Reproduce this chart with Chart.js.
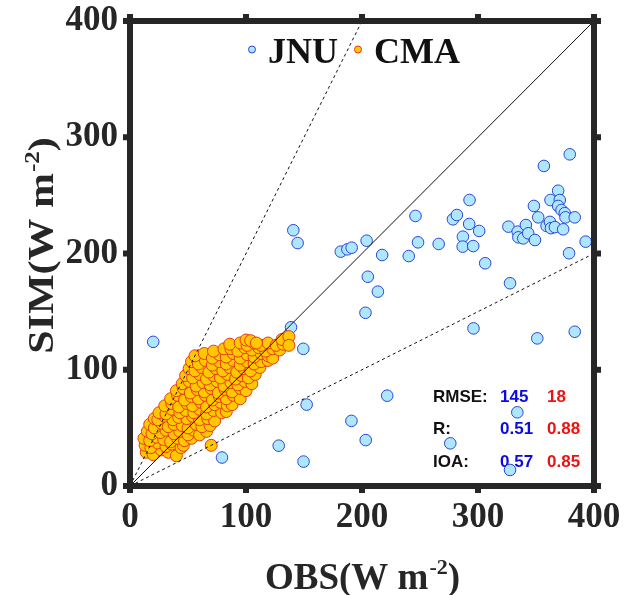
<!DOCTYPE html>
<html>
<head>
<meta charset="utf-8">
<script src="https://cdn.jsdelivr.net/npm/chart.js@4.4.0/dist/chart.umd.min.js"></script>
<style>
  html, body { margin: 0; padding: 0; background: #fff; }
</style>
</head>
<body>
<canvas id="scatterChart" width="624" height="595"></canvas>
<script>
const axisTicks = [0, 100, 200, 300, 400];

// [OBS, SIM] pairs, W m-2
const jnuPairs = [
  [140.8, 220], [144.5, 209], [181.7, 201.6], [187.4, 203.6], [191.1, 205], [204, 211],
  [205, 180], [203, 149], [20, 124], [138.8, 136.5], [149.4, 118], [152.3, 70],
  [190.9, 56], [203.2, 39.5], [128.2, 34.7], [149.6, 21], [79.3, 24.5], [213.7, 167.2],
  [217.4, 198.7], [240.3, 197.8], [246.1, 232.3], [248.3, 209.6], [266.1, 208.2], [278.4, 229.4],
  [281.8, 233.1], [292.7, 246], [292.4, 225.4], [301, 219.4], [287, 214.5], [286.8, 205.9],
  [295.9, 206.4], [306.2, 191.6], [326.2, 223.1], [334.2, 218.8], [334.8, 213.9], [339, 213],
  [341.3, 224.5], [343.3, 217.4], [349.1, 211.6], [348.2, 240.9], [351.9, 231.1], [356.8, 275.3],
  [362.5, 246], [369.1, 254], [370.5, 246], [369.1, 240.9], [372, 237.4], [374.8, 234.7],
  [375.4, 231.1], [383.4, 231.1], [359.1, 223.7], [362, 227.2], [362.9, 221.8], [366.3, 222.7],
  [373.4, 220.8], [379.1, 285.3], [378.5, 200.2], [392.8, 210.2], [327.6, 174.4], [296.1, 135.6],
  [351.1, 127], [383.4, 132.7], [221.7, 77.7], [276.1, 36.7], [333.9, 63.4], [327.6, 13.8]
];

const cmaPairs = [
  [14, 29], [20, 27], [27, 31], [33, 29], [40, 26],
  [13, 35], [18, 33], [24, 37], [31, 34], [36, 36], [44, 33], [46, 35],
  [12, 41], [17, 39], [23, 42], [29, 40], [35, 38], [41, 41], [47, 39], [53, 41],
  [15, 47], [19, 45], [26, 46], [31, 48], [38, 45], [43, 47], [50, 44], [55, 48], [60, 44], [66, 47],
  [17, 53], [21, 50], [27, 54], [33, 51], [38, 53], [45, 52], [50, 50], [57, 53], [62, 51], [69, 52],
  [21, 58], [24, 57], [30, 60], [37, 57], [42, 59], [49, 58], [54, 60], [60, 57], [67, 58], [73, 56],
  [25, 63], [31, 62], [36, 66], [43, 63], [48, 65], [55, 63], [60, 66], [66, 62], [72, 65], [79, 63], [83, 64],
  [30, 69], [36, 71], [42, 68], [49, 71], [54, 69], [61, 72], [66, 68], [73, 70], [78, 72], [84, 69], [88, 70],
  [35, 75], [41, 78], [47, 74], [53, 77], [59, 75], [65, 78], [71, 74], [77, 77], [83, 75], [89, 78], [95, 75],
  [40, 82], [46, 84], [52, 80], [58, 83], [64, 81], [70, 84], [76, 80], [82, 83], [88, 81], [95, 84], [100, 82],
  [45, 88], [51, 90], [57, 86], [63, 89], [69, 87], [75, 90], [81, 86], [87, 89], [93, 87], [99, 90], [105, 88],
  [48, 95], [54, 93], [60, 96], [66, 92], [72, 95], [78, 93], [84, 96], [91, 92], [96, 95], [102, 93], [108, 96],
  [51, 101], [56, 99], [62, 102], [68, 98], [74, 101], [80, 99], [86, 102], [92, 98], [98, 101], [104, 99], [112, 102],
  [53, 107], [59, 105], [65, 108], [71, 104], [77, 107], [83, 105], [89, 108], [95, 104], [101, 107], [107, 105], [113, 107], [119, 108],
  [56, 112], [64, 114], [71, 110], [77, 113], [83, 111], [89, 114], [95, 110], [101, 113], [107, 111], [113, 114], [119, 112], [123, 110],
  [72, 116], [81, 118], [87, 118], [93, 116], [99, 119], [105, 117], [111, 119], [117, 116], [123, 118], [129, 117],
  [86, 122], [95, 123], [101, 121], [107, 123], [113, 121], [119, 123], [126, 121], [132, 122],
  [100, 125.6], [104, 125], [109, 123], [131, 126], [137, 128.5], [137, 121],
  [70, 35]
];

// 1:1 line and the 2:1 / 1:2 envelopes
const refSlopes = [1, 2, 0.5];
const refDashes = [[], [3, 3], [3, 3]];

const statNames = ['RMSE:', 'R:', 'IOA:'];
const jnuStats = ['145', '0.51', '0.57'];
const cmaStats = ['18', '0.88', '0.85'];

const serif = '"Liberation Serif", "Times New Roman", serif';
const sans = '"Liberation Sans", Arial, sans-serif';
const ink = '#262626';
const jnuFill = '#aee6fd', jnuEdge = '#2a45d8';
const cmaFill = '#ffc800', cmaEdge = '#e8381a';

const toXY = pairs => pairs.map(p => ({x: p[0], y: p[1]}));

const refSets = refSlopes.map((s, i) => ({
  type: 'line',
  data: [{x: 0, y: 0}, {x: Math.min(400, 400 / s), y: Math.min(400, 400 * s)}],
  borderColor: '#111',
  borderWidth: 1,
  borderDash: refDashes[i],
  pointRadius: 0,
  fill: false
}));

const framePlugin = {
  id: 'frame',
  afterDatasetsDraw(chart) {
    const {ctx, chartArea: a, scales: {x, y}} = chart;
    ctx.save();
    ctx.strokeStyle = ink;
    ctx.lineWidth = 6;
    ctx.strokeRect(a.left, a.top, a.right - a.left, a.bottom - a.top);
    ctx.fillStyle = ink;
    axisTicks.forEach(v => {
      const px = x.getPixelForValue(v), py = y.getPixelForValue(v);
      ctx.fillRect(px - 3, a.bottom + 2, 6, 5);
      ctx.fillRect(px - 3, a.top - 7, 6, 5);
      ctx.fillRect(a.left - 7, py - 3, 5, 6);
      ctx.fillRect(a.right + 2, py - 3, 5, 6);
    });
    ctx.restore();
  }
};

// title with a raised "-2" exponent; squash narrows the glyphs vertically
function unitTitle(ctx, label, cx, cy, size, squash) {
  const sub = Math.round(size * 0.6);
  ctx.save();
  ctx.translate(cx, cy);
  ctx.scale(1, squash);
  const main = label + '(W m', sup = '-2', tail = ')';
  ctx.font = 'bold ' + size + 'px ' + serif;
  const w1 = ctx.measureText(main).width, w3 = ctx.measureText(tail).width;
  ctx.font = 'bold ' + sub + 'px ' + serif;
  const w2 = ctx.measureText(sup).width;
  const sx = -(w1 + w2 + w3) / 2;
  ctx.textAlign = 'left';
  ctx.textBaseline = 'alphabetic';
  ctx.font = 'bold ' + size + 'px ' + serif;
  ctx.fillText(main, sx, 0);
  ctx.font = 'bold ' + sub + 'px ' + serif;
  ctx.fillText(sup, sx + w1 + 1, -size * 0.4);
  ctx.font = 'bold ' + size + 'px ' + serif;
  ctx.fillText(tail, sx + w1 + w2 + 1, 0);
  ctx.restore();
}

const decorPlugin = {
  id: 'decor',
  beforeDatasetsDraw(chart) {
    const {ctx} = chart;
    ctx.save();
    ctx.font = 'bold 17px ' + sans;
    ctx.textBaseline = 'middle';
    ctx.textAlign = 'left';
    statNames.forEach((name, i) => {
      const ty = 397 + i * 32.5;
      ctx.fillStyle = '#111';
      ctx.fillText(name, 433, ty);
      ctx.fillStyle = '#0a0ae6';
      ctx.fillText(jnuStats[i], 500, ty);
      ctx.fillStyle = '#ee1111';
      ctx.fillText(cmaStats[i], 547, ty);
    });
    ctx.restore();
  },
  afterDraw(chart) {
    const {ctx, chartArea: a} = chart;
    ctx.save();
    ctx.fillStyle = ink;
    unitTitle(ctx, 'OBS', (a.left + a.right) / 2, 589, 37, 1);
    ctx.translate(53, 246);
    ctx.rotate(-Math.PI / 2);
    unitTitle(ctx, 'SIM', 0, 0, 42, 0.84);
    ctx.restore();

    // legend inside the plot box
    ctx.save();
    ctx.lineWidth = 1;
    [[252, 'JNU', jnuFill, jnuEdge], [358, 'CMA', cmaFill, cmaEdge]].forEach(([lx, txt, f, e]) => {
      ctx.beginPath();
      ctx.arc(lx, 49.5, 3.5, 0, Math.PI * 2);
      ctx.fillStyle = f;
      ctx.fill();
      ctx.strokeStyle = e;
      ctx.stroke();
      ctx.fillStyle = '#111';
      ctx.font = 'bold 36px ' + serif;
      ctx.textBaseline = 'alphabetic';
      ctx.fillText(txt, lx + 16, 63);
    });
    ctx.restore();
  }
};

const tickFont = {family: serif, size: 35, weight: 'bold'};

new Chart(document.getElementById('scatterChart'), {
  type: 'scatter',
  data: {
    datasets: [
      ...refSets,
      {
        label: 'CMA',
        data: toXY(cmaPairs),
        backgroundColor: cmaFill,
        borderColor: cmaEdge,
        borderWidth: 1,
        pointRadius: 6,
        clip: false
      },
      {
        label: 'JNU',
        data: toXY(jnuPairs),
        backgroundColor: jnuFill,
        borderColor: jnuEdge,
        borderWidth: 1,
        pointRadius: 5.8,
        clip: false
      }
    ]
  },
  options: {
    responsive: false,
    animation: false,
    layout: {padding: {top: 21, right: 30, left: 0, bottom: 0}},
    plugins: {legend: {display: false}, tooltip: {enabled: false}},
    scales: {
      x: {
        min: 0, max: 400,
        grid: {display: false, drawTicks: false},
        border: {display: false},
        ticks: {stepSize: 100, font: tickFont, color: ink, padding: 11, maxRotation: 0},
        afterFit: s => { s.height = 109; s.paddingLeft = 0; s.paddingRight = 0; }
      },
      y: {
        min: 0, max: 400,
        grid: {display: false, drawTicks: false},
        border: {display: false},
        ticks: {stepSize: 100, font: tickFont, color: ink, padding: 12},
        afterFit: s => { s.width = 130; s.paddingTop = 0; s.paddingBottom = 0; }
      }
    }
  },
  plugins: [framePlugin, decorPlugin]
});
</script>
</body>
</html>
